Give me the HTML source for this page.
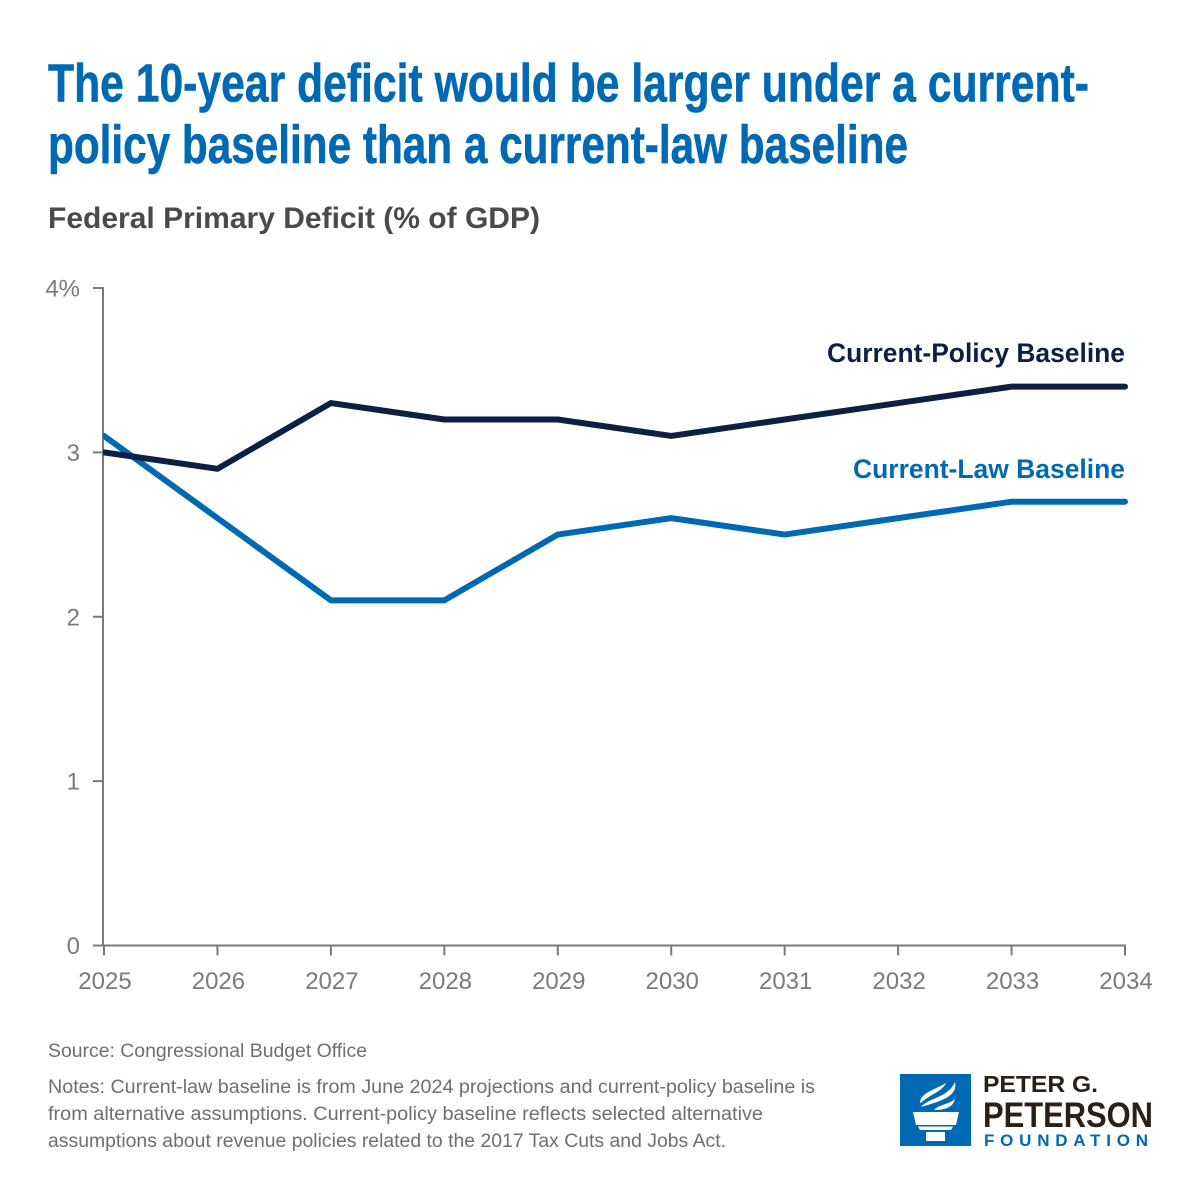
<!DOCTYPE html>
<html>
<head>
<meta charset="utf-8">
<style>
html,body{margin:0;padding:0;background:#fff;width:1200px;height:1200px;overflow:hidden}
svg{display:block}
text{font-family:"Liberation Sans",sans-serif}
</style>
</head>
<body>
<svg id="chart" width="1200" height="1200" viewBox="0 0 1200 1200" xmlns="http://www.w3.org/2000/svg">
<defs><clipPath id="plot-clip"><rect x="103" y="270" width="1040" height="680"/></clipPath></defs>
<text x="48" y="101.5" font-size="54" font-weight="700" fill="#0069b4" stroke="#0069b4" stroke-width="0.6" textLength="1041" lengthAdjust="spacingAndGlyphs">The 10-year deficit would be larger under a current-</text>
<text x="48" y="163" font-size="54" font-weight="700" fill="#0069b4" stroke="#0069b4" stroke-width="0.6" textLength="860" lengthAdjust="spacingAndGlyphs">policy baseline than a current-law baseline</text>
<text x="48" y="228" font-size="30" font-weight="700" fill="#4a4a4a" textLength="492" lengthAdjust="spacingAndGlyphs">Federal Primary Deficit (% of GDP)</text>
<g id="axes"></g>
<g id="series" clip-path="url(#plot-clip)"></g>
<text x="1125" y="362" font-size="27" font-weight="700" fill="#0b2045" text-anchor="end" textLength="298" lengthAdjust="spacingAndGlyphs">Current-Policy Baseline</text>
<text x="1125" y="478" font-size="27" font-weight="700" fill="#0069b4" text-anchor="end" textLength="272" lengthAdjust="spacingAndGlyphs">Current-Law Baseline</text>
<text x="48" y="1057" font-size="19" fill="#6f6f6f" textLength="319" lengthAdjust="spacingAndGlyphs">Source: Congressional Budget Office</text>
<text x="48" y="1093" font-size="19" fill="#6f6f6f" textLength="767" lengthAdjust="spacingAndGlyphs">Notes: Current-law baseline is from June 2024 projections and current-policy baseline is</text>
<text x="48" y="1120" font-size="19" fill="#6f6f6f" textLength="715" lengthAdjust="spacingAndGlyphs">from alternative assumptions. Current-policy baseline reflects selected alternative</text>
<text x="48" y="1147" font-size="19" fill="#6f6f6f" textLength="678" lengthAdjust="spacingAndGlyphs">assumptions about revenue policies related to the 2017 Tax Cuts and Jobs Act.</text>
<g>
<rect x="900" y="1074" width="71" height="72" fill="#0069b4"/>
<g fill="#fff">
<polygon points="913,1112 959,1112 956,1125 916,1125"/>
<polygon points="918,1126.5 953,1126.5 951,1130 920,1130"/>
<polygon points="926,1132 945,1132 945,1141 926,1141"/>
<path d="M920,1102 C921,1093 934,1090 946,1083 C942,1092 930,1094 921,1103Z"/>
<path d="M921,1107 C928,1098 948,1098 955,1082 C958,1096 942,1101 921,1107Z"/>
<path d="M934,1110 C940,1104 948,1105 955,1099 C953,1107 946,1110 934,1110Z"/>
</g>
<text x="983" y="1092" font-size="23" font-weight="700" fill="#2a2015" textLength="115" lengthAdjust="spacingAndGlyphs">PETER G.</text>
<text x="983" y="1127" font-size="35" font-weight="700" fill="#2a2015" textLength="170" lengthAdjust="spacingAndGlyphs">PETERSON</text>
<text x="984" y="1146" font-size="17" font-weight="700" fill="#0069b4" textLength="164">FOUNDATION</text>
</g>
</svg>
<script>
const years = [2025, 2026, 2027, 2028, 2029, 2030, 2031, 2032, 2033, 2034];
const currentPolicy = [3.0, 2.9, 3.3, 3.2, 3.2, 3.1, 3.2, 3.3, 3.4, 3.4];
const currentLaw = [3.1, 2.6, 2.1, 2.1, 2.5, 2.6, 2.5, 2.6, 2.7, 2.7];
const yTicks = [0, 1, 2, 3, 4];
const yTickLabels = ['0', '1', '2', '3', '4%'];

const NS = 'http://www.w3.org/2000/svg';
function xScale(year) {
  return 104 + (year - years[0]) * (1125 - 104) / (years[years.length - 1] - years[0]);
}
function yScale(v) {
  return 945.5 - v * (945.5 - 288) / 4;
}
function add(parent, tag, attrs) {
  const el = document.createElementNS(NS, tag);
  for (const k in attrs) el.setAttribute(k, attrs[k]);
  parent.appendChild(el);
  return el;
}
const axes = document.getElementById('axes');
const axisColor = '#7a7a7a';
const yAxisLine = add(axes, 'line', {x1: 103, x2: 103, y1: yScale(4) - 1, y2: yScale(0), stroke: axisColor, 'stroke-width': 2});


const xAxisLine = add(axes, 'line', {x1: 93, x2: 1126, y1: yScale(0), y2: yScale(0), stroke: axisColor, 'stroke-width': 2});


yTicks.forEach((t, i) => {
  const tick = add(axes, 'line', {x1: 93, x2: 103, y1: yScale(t), y2: yScale(t), stroke: axisColor, 'stroke-width': 2});
  
  
  const label = add(axes, 'text', {x: 80, y: yScale(t) + 8.5, 'font-size': 24, fill: '#7a7a7a', 'text-anchor': 'end'});
  
  
  label.textContent = yTickLabels[i];
});
years.forEach(yr => {
  const tick = add(axes, 'line', {x1: xScale(yr), x2: xScale(yr), y1: yScale(0), y2: yScale(0) + 10, stroke: axisColor, 'stroke-width': 2});
  
  
  const label = add(axes, 'text', {x: xScale(yr) + 1, y: 989, 'font-size': 24, fill: '#7a7a7a', 'text-anchor': 'middle'});
  
  
  label.textContent = yr;
});
const seriesGroup = document.getElementById('series');
function pts(values) {
  return values.map((v, i) => xScale(years[i]) + ',' + yScale(v)).join(' ');
}
const lawLine = add(seriesGroup, 'polyline', {points: pts(currentLaw), fill: 'none', stroke: '#0069b4', 'stroke-width': 6, 'stroke-linejoin': 'round', 'stroke-linecap': 'round'});


const policyLine = add(seriesGroup, 'polyline', {points: pts(currentPolicy), fill: 'none', stroke: '#0b2045', 'stroke-width': 6, 'stroke-linejoin': 'round', 'stroke-linecap': 'round'});


</script>
</body>
</html>
